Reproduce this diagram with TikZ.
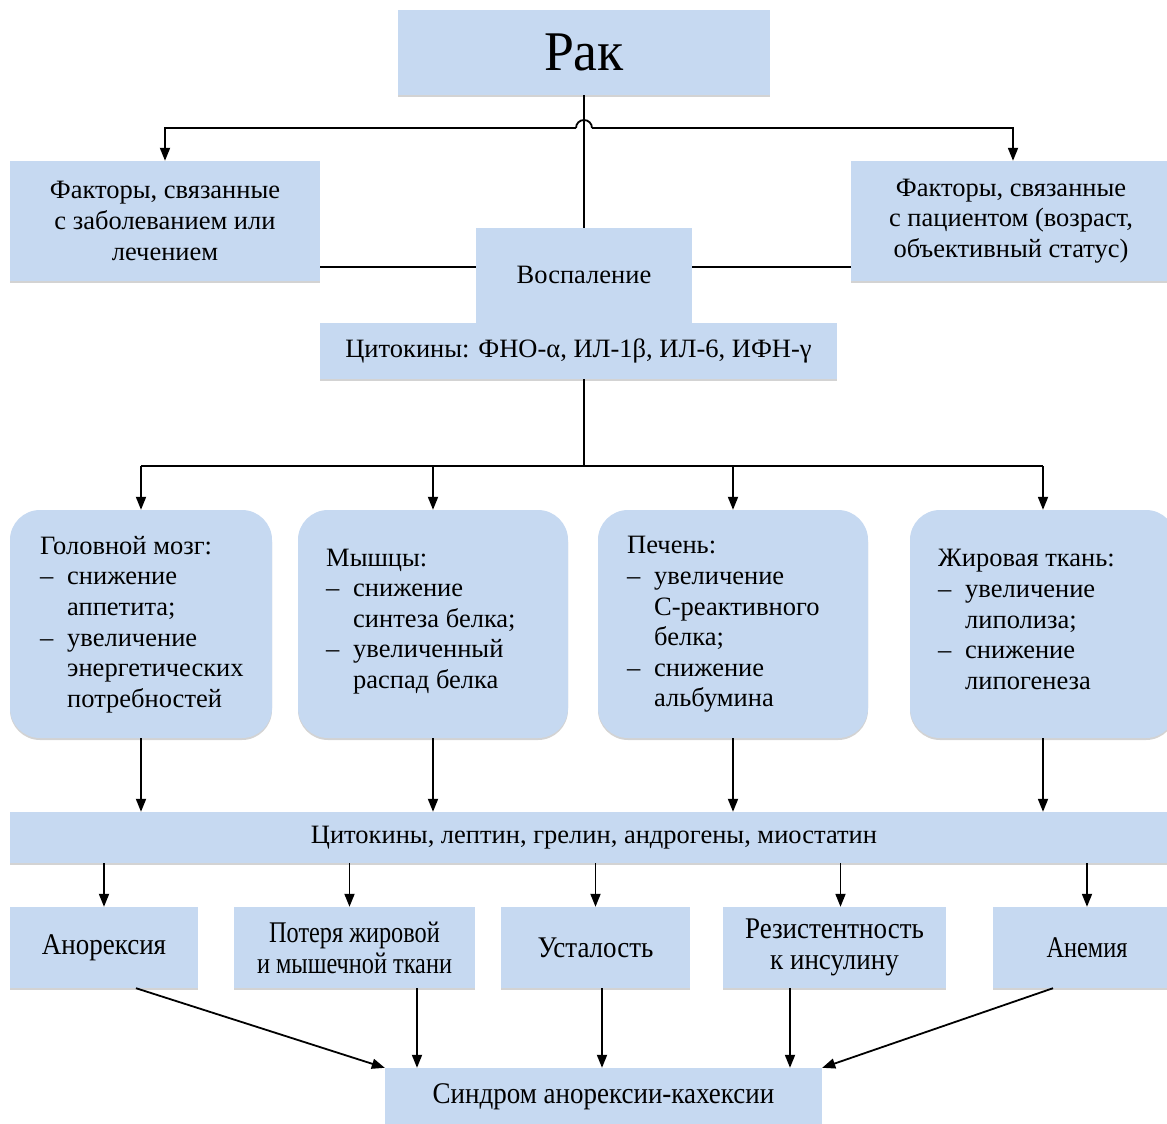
\documentclass[tikz,border=0pt]{standalone}
\usepackage{fontspec}
\setmainfont{Liberation Serif}
\newfontfamily\narrowfont[FakeStretch=0.9]{Liberation Serif}
\newfontfamily\narrowerfont[FakeStretch=0.81]{Liberation Serif}
\newfontfamily\rakfont[FakeStretch=0.96]{Liberation Serif}
\usetikzlibrary{arrows.meta,shadows}
\definecolor{boxblue}{HTML}{C6D9F1}
\newcommand{\di}{\makebox[27pt][l]{–}}
\newcommand{\ct}{\hspace*{27pt}}
\begin{document}
\begin{tikzpicture}[x=1pt,y=-1pt,
  base/.style={fill=boxblue,draw=none,inner sep=0pt,align=center,
    drop shadow={shadow xshift=0pt,shadow yshift=-2pt,fill=gray,opacity=0.35}},
  box/.style={base,font=\fontsize{26.5}{30.6}\selectfont},
  nbox/.style={base,font=\narrowfont\fontsize{30}{31}\selectfont},
  nnbox/.style={base,font=\narrowerfont\fontsize{30}{31}\selectfont},
  organ/.style={base,rounded corners=30pt,minimum width=#1,minimum height=228pt},
  otext/.style={inner sep=0pt,align=left,anchor=west,font=\fontsize{26.5}{30.6}\selectfont},
  ln/.style={line width=1.8pt},
  arr/.style={ln,-{Triangle[width=10pt,length=13pt]}}
]
\useasboundingbox (0,0) rectangle (1167,1124);

% top
\node[base,font=\rakfont\fontsize{56}{60}\selectfont,minimum width=372pt,minimum height=85pt] (rak) at (584,52.5) {Рак};
\node[box,minimum width=310pt,minimum height=120pt] (fl) at (165,221) {Факторы, связанные\\с заболеванием или\\лечением};
\node[box,minimum width=320pt,minimum height=120pt] (fr) at (1011,221) {Факторы, связанные\\с пациентом (возраст,\\объективный статус)};
\node[box,minimum width=216pt,minimum height=95pt] (vos) at (584,275.5) {\raisebox{2pt}{Воспаление}};
\node[box,minimum width=517pt,minimum height=56pt] (cyt) at (578.5,351) {Цитокины: ФНО-α, ИЛ-1β, ИЛ-6, ИФН-γ};

\draw[ln] (rak.south) -- (vos.north);
\coordinate (hl) at (576,128);
\coordinate (hr) at (592,128);
\draw[arr] (hl) -| (fl.north);
\draw[arr] (hr) -| ([xshift=2pt]fr.north);
\draw[ln] (hl) arc[start angle=180,end angle=360,radius=8];
\draw[ln] (fl.east |- 0,267) -- (vos.west |- 0,267);
\draw[ln] (vos.east |- 0,267) -- (fr.west |- 0,267);

% organs
\node[organ=262pt] (brain) at (141,624) {};
\node[organ=270pt] (mus) at (433,624) {};
\node[organ=270pt] (liv) at (733,624) {};
\node[organ=266pt] (fat) at (1043,624) {};

\node[otext] (brainT) at (40,624.5) {Головной мозг:\\\di снижение\\\ct аппетита;\\\di увеличение\\\ct энергетических\\\ct потребностей};
\node[otext] (musT) at (326,621.5) {Мышцы:\\\di снижение\\\ct синтеза белка;\\\di увеличенный\\\ct распад белка};
\node[otext] (livT) at (627,624.5) {Печень:\\\di увеличение\\\ct С-реактивного\\\ct белка;\\\di снижение\\\ct альбумина};
\node[otext] (fatT) at (938,619.5) {Жировая ткань:\\\di увеличение\\\ct липолиза;\\\di снижение\\\ct липогенеза};

\coordinate (bus) at (584,466);
\draw[ln] (cyt.south -| bus) -- (bus);
\draw[ln] (brain.north |- bus) -- (fat.north |- bus);
\foreach \n in {brain,mus,liv,fat} \draw[arr] (\n.north |- bus) -- (\n.north);

% bar
\node[box,minimum width=1168pt,minimum height=51pt] (bar) at (594,837.5) {Цитокины, лептин, грелин, андрогены, миостатин};
\foreach \n in {brain,mus,liv,fat} \draw[arr] (\n.south) -- (\n.south |- bar.north);

% bottom row
\node[nbox,minimum width=188pt,minimum height=81pt] (a1) at (104,947.5) {Анорексия};
\node[nnbox,minimum width=241pt,minimum height=81pt] (a2) at (354.5,947.5) {Потеря жировой\\и мышечной ткани};
\node[nbox,minimum width=189pt,minimum height=81pt] (a3) at (595.5,947.5) {Усталость};
\node[nbox,minimum width=223pt,minimum height=81pt] (a4) at (834.5,947.5) {Резистентность\\к инсулину};
\node[nnbox,minimum width=188pt,minimum height=81pt] (a5) at (1087,947.5) {Анемия};

\draw[arr] ([xshift=-5pt]a2.north |- bar.south) -- ([xshift=-5pt]a2.north);
\draw[arr] (a1.north |- bar.south) -- (a1.north);
\draw[arr] (a3.north |- bar.south) -- (a3.north);
\draw[arr] ([xshift=6pt]a4.north |- bar.south) -- ([xshift=6pt]a4.north);
\draw[arr] (a5.north |- bar.south) -- (a5.north);

% final
\node[nbox,minimum width=437pt,minimum height=58pt] (fin) at (603.5,1097) {Синдром анорексии-кахексии};
\draw[arr] ([xshift=32pt]a1.south) -- (fin.north west);
\draw[arr] ([xshift=62.5pt]a2.south) -- ([xshift=62.5pt]a2.south |- fin.north);
\draw[arr] ([xshift=6.5pt]a3.south) -- ([xshift=6.5pt]a3.south |- fin.north);
\draw[arr] ([xshift=-44.5pt]a4.south) -- ([xshift=-44.5pt]a4.south |- fin.north);
\draw[arr] ([xshift=-34pt]a5.south) -- (fin.north east);
\end{tikzpicture}
\end{document}
